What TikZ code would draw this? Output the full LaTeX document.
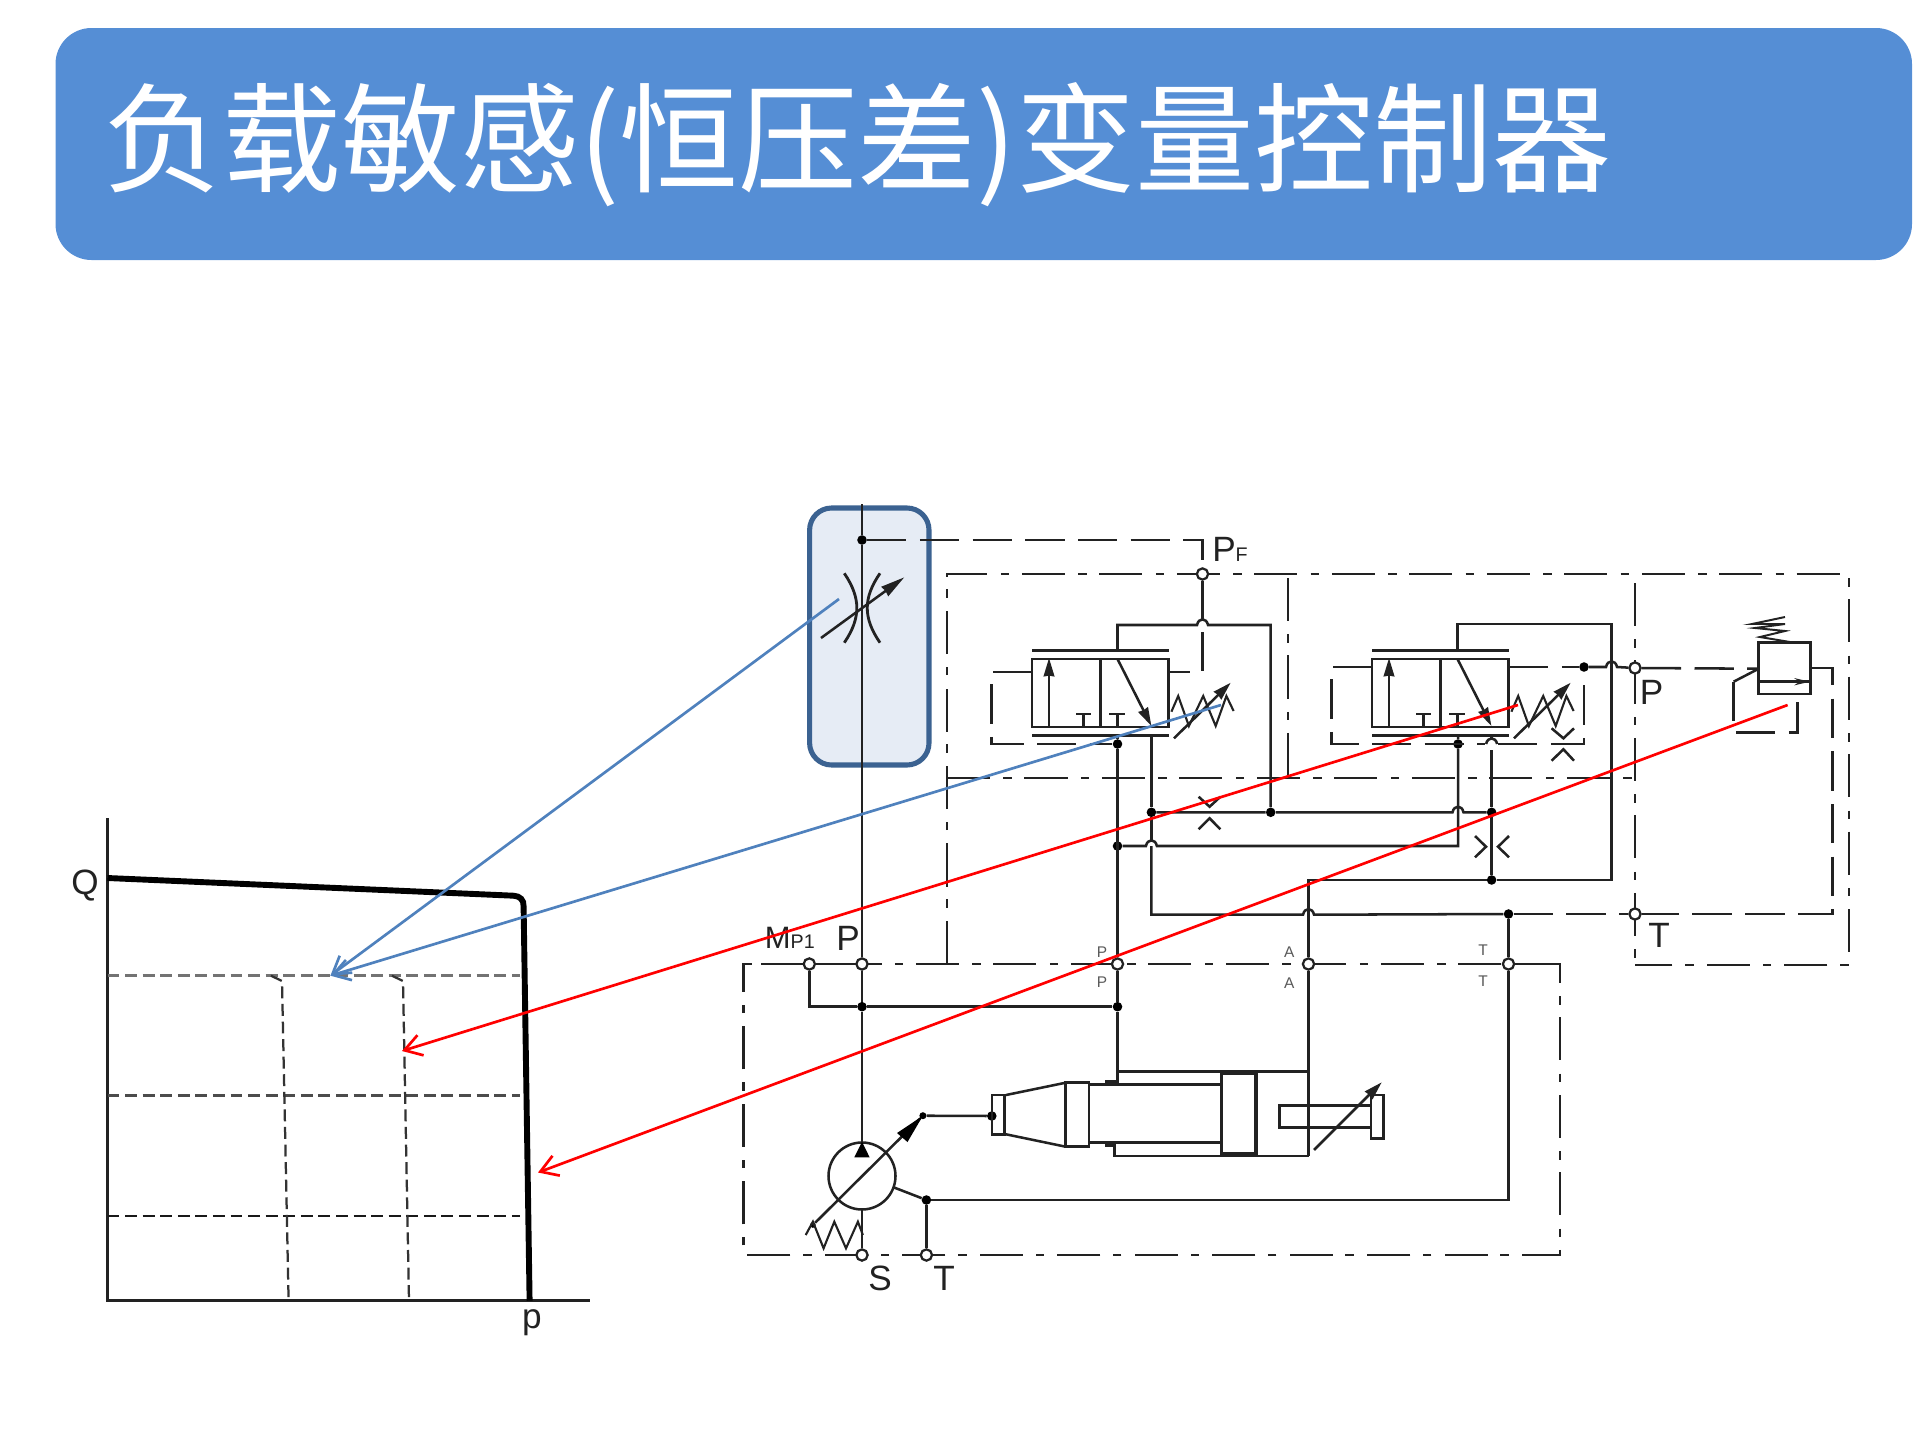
\documentclass[tikz,border=0pt]{standalone}
\usepackage{fontspec}
\setmainfont{Liberation Sans}
\newfontfamily\cjk{Noto Sans CJK SC}
\usetikzlibrary{arrows.meta}
\definecolor{titleblue}{HTML}{558ED5}
\definecolor{boxfill}{HTML}{E6ECF5}
\definecolor{boxline}{HTML}{3B6291}
\definecolor{linkblue}{HTML}{4F81BD}
\definecolor{inkline}{HTML}{222222}
\newcommand{\hopx}[2]{({#1-5.5},#2) .. controls ({#1-4},{#2-7.5}) and ({#1+4},{#2-7.5}) .. ({#1+5.5},#2)}
\tikzset{
	pipe/.style={draw=inkline,line width=1.8pt},
	frameline/.style={draw=inkline,line width=1.8pt,dash pattern=on 30.6pt off 9.5pt on 6pt off 9pt},
	ctrlline/.style={draw=inkline,line width=1.8pt,dash pattern=on 28pt off 9.5pt},
	port/.style={circle,draw=inkline,fill=white,line width=1.6pt,inner sep=0pt,minimum size=8pt},
	dot/.style={circle,fill=black,inner sep=0pt,minimum size=6.8pt},
	biglabel/.style={font=\fontsize{25}{27}\selectfont,text=inkline,inner sep=0pt},
	smalllabel/.style={font=\fontsize{11}{13}\selectfont,text=black!65,inner sep=0pt},
	gridline/.style={dashed,dash pattern=on 8.5pt off 4pt},
	linkarrow/.style={line width=1.9pt,-{Straight Barb[length=12pt,width=15pt,line width=1.9pt]}},
	tiparrow/.style={-{Stealth[length=13pt,width=7.5pt,inset=0.5pt]}},
}
\begin{document}
\begin{tikzpicture}[x=0.025cm,y=-0.025cm]
	\useasboundingbox (0,0) rectangle (1920,1440);
	% title bar
	\fill[titleblue,rounded corners=0.9cm] (55.5,28) rectangle (1912,260);
	\node[anchor=base west,inner sep=0pt,text=white,font=\cjk\fontsize{84.6}{90}\selectfont] (title) at (103,183) {负载敏感(恒压差)变量控制器};

	% p-Q chart
	\coordinate (origin) at (107.5,1300.7);
	\draw[pipe,line width=1.9pt] (107.5,818) -- (origin) -- (590,1300.7);
	\draw[gridline,line width=2.4pt,black!55] (107.5,975.7) -- (520,975.7);
	\draw[gridline,line width=2pt,black!70] (107.5,1095.7) -- (520,1095.7);
	\draw[gridline,line width=1.6pt,black!90] (107.5,1216) -- (520,1216);
	\draw[gridline,line width=1.6pt,black!80] (271,975.7) -- (282,981) -- (288.6,1300.7);
	\draw[gridline,line width=1.6pt,black!80] (392,975.7) -- (403,981) -- (409,1300.7);
	\draw[line width=4.2pt,black] (107.5,878) -- (513.6,895.7) .. controls (520,896) and (524,900) .. (523.6,906.4) -- (529.6,1300.7);
	\node[biglabel] (lblq) at (85,886) {Q};
	\node[biglabel] (lblp) at (532,1323) {p};

	% throttle box
	\draw[boxline,fill=boxfill,line width=3.6pt,rounded corners=0.55cm] (809.6,508) rectangle (929,765);
	\draw[line width=2pt,inkline] (844.3,573.3) .. controls (861,598) and (861,618) .. (844.3,642.7);
	\draw[line width=2pt,inkline] (880,573.3) .. controls (863,598) and (863,618) .. (880,642.7);
	\draw[pipe,-{Stealth[length=17pt,width=8pt,inset=0.5pt]}] (821,638) -- (904.3,577.3);

	% dash-dot frames
	\draw[frameline] (947,964) -- (947,574) -- (1849,574) -- (1849,965) -- (1635,965);
	\draw[frameline] (947,778) -- (1632,778);
	\draw[frameline] (1288,578) -- (1288,778);
	\draw[frameline] (1635,583) -- (1635,965);
	\draw[frameline] (761,964) -- (1560,964) -- (1560,1255) -- (743.6,1255) -- (743.6,964) -- (752,964);

	% ports
	\node[port] (pf) at (1202.5,574) {};
	\node[port] (mp1) at (809.3,964) {};
	\node[port] (pp) at (862,964) {};
	\node[port] (pv) at (1117.5,964) {};
	\node[port] (pa) at (1308.5,964) {};
	\node[port] (pt) at (1508.5,964) {};
	\node[port] (ps) at (862,1255) {};
	\node[port] (pd) at (926.4,1255) {};
	\node[port] (pc) at (1635,668) {};
	\node[port] (tc) at (1635,914) {};

	% junctions
	\node[dot] (jf) at (862,540) {};
	\node[dot] (j1) at (862,1006.7) {};
	\node[dot] (j2) at (1117.5,1006.7) {};
	\node[dot] (j3) at (1117.5,744) {};
	\node[dot] (j4) at (1117.5,846) {};
	\node[dot] (j5) at (1151.4,812.3) {};
	\node[dot] (j6) at (1270.7,812.3) {};
	\node[dot] (j7) at (1458,744) {};
	\node[dot] (j8) at (1491.6,812.3) {};
	\node[dot] (j9) at (1491.6,880) {};
	\node[dot] (j10) at (1584,667) {};
	\node[dot] (j11) at (1508.5,914) {};
	\node[dot] (j12) at (926.4,1200) {};
	\node[dot,minimum size=5pt] (j13) at (922.9,1115.7) {};
	\node[dot] (j14) at (991.8,1116) {};
	\node[dot,minimum size=4pt] (j15) at (812.9,1225) {};

	% directional valves
	\foreach \vx in {0,340}{
		\begin{scope}[shift={(\vx,0)}]
			\draw[pipe] (1032,659) rectangle (1168.6,727);
			\draw[pipe] (1100.4,659) -- (1100.4,727);
			\draw[pipe] (1032,650.7) -- (1168.6,650.7);
			\draw[pipe] (1032,735.7) -- (1168.6,735.7);
			\draw[pipe,tiparrow] (1049,727) -- (1049,658);
			\draw[pipe] (1083.6,727) -- (1083.6,714) (1076,714) -- (1091,714);
			\draw[pipe] (1117.5,727) -- (1117.5,714) (1109,714) -- (1125,714);
			\draw[pipe,tiparrow] (1117.5,659) -- (1151.4,726);
			\draw[pipe,line width=1.5pt] (1171.4,711.7) -- (1178.2,696) -- (1188.9,726) -- (1203.2,696) -- (1215.7,726) -- (1226.4,696) -- (1233.6,711);
			\draw[pipe,tiparrow] (1174,738.3) -- (1230.7,682.7);
		\end{scope}
	}

	% pilot lines
	\draw[ctrlline] (jf) -- (1202.5,540) -- (1202.5,562);
	\draw[ctrlline] (1202.5,632) -- (1202.5,676);
	\draw[ctrlline] (1032,672) -- (991.4,672) -- (991.4,744) -- (j3);
	\draw[pipe] (1168.6,672) -- (1190,672);
	\draw[ctrlline] (1372,667) -- (1331.4,667) -- (1331.4,744) -- (1485,744);
	\draw[ctrlline] (1498,744) -- (1584,744) -- (1584,683);
	\draw[pipe] \hopx{1491.6}{744};
	\draw[ctrlline] (1509,667) -- (j10);
	\draw[pipe] (j10) -- \hopx{1611.5}{667} -- (pc);
	\draw[ctrlline] (pc) -- (1758.7,668.7);
	\draw[ctrlline] (1810.5,668) -- (1832.7,668) -- (1832.7,914) -- (tc);
	\draw[ctrlline] (j11) -- (tc);
	\draw[ctrlline] (1733.6,682) -- (1733.6,732.3) -- (1797.6,732.3) -- (1797.6,694);

	% main pipes
	\draw[pipe] (862,504) -- (jf) -- (pp);
	\draw[pipe] (pp) -- (j1) -- (862,1142);
	\draw[pipe] (mp1) -- (pp);
	\draw[pipe] (mp1) |- (j1) -- (j2);
	\draw[pipe] (pv) -- (j2) -- (1117.5,1081.7) -- (1105,1081.7);
	\draw[pipe] (j3) -- (pv);
	\draw[pipe] (1117.5,735.7) -- (j3);
	\draw[pipe] (1117.5,650.7) -- (1117.5,625) -- \hopx{1202.5}{625} -- (1270.7,625) -- (j6);
	\draw[pipe] (pf) -- (1202.5,619);
	\draw[pipe] (1151.4,735.7) -- (j5) -- (1151.4,840);
	\draw[pipe] (1151.4,846) -- (1151.4,914.7) -- \hopx{1308.5}{914.7} -- (j11);
	\draw[pipe] (j4) -- \hopx{1151.4}{846} -- (1458,846) -- (j7) -- (1458,735.7);
	\draw[pipe] (j5) -- (j6) -- \hopx{1458}{812.3} -- (j8);
	\draw[pipe] (1491.6,735.7) -- (1491.6,738) (1491.6,750) -- (j8) -- (j9);
	\draw[pipe] (pa) -- (1308.5,880) -- (j9) -- (1611.5,880) -- (1611.5,624) -- (1457.5,624) -- (1457.5,650.7);
	\draw[pipe] (pa) -- (1308.5,1156);
	\draw[pipe] (pt) -- (1508.5,1200) -- (j12);
	\draw[pipe] (j11) -- (pt);
	\draw[pipe] (pt) -- (1560,964);
	\draw[pipe] (j12) -- (pd);
	\draw[pipe] (893.6,1187.3) -- (j12);
	\draw[pipe] (862,1209.5) -- (ps);

	% nozzles
	\draw[pipe] (1198.6,796.7) -- (1209.6,806.7) -- (1220.4,796.7);
	\draw[pipe] (1198.6,829.3) -- (1209.6,818.3) -- (1220.4,829.3);
	\draw[pipe] (1551.6,728.3) -- (1563.4,738.3) -- (1574,728.3);
	\draw[pipe] (1551.6,760.7) -- (1563.4,749.3) -- (1574,760.7);
	\draw[pipe] (1475,836) -- (1486,846.7) -- (1475,857.3);
	\draw[pipe] (1509,836) -- (1498,846.7) -- (1509,857.3);

	% relief valve
	\draw[pipe] (1758.7,642.7) rectangle (1810.5,694);
	\draw[pipe] (1758.7,681.7) -- (1810.5,681.7);
	\draw[pipe,-{Stealth[length=11pt,width=5pt]}] (1785,681.7) -- (1810,681.7);
	\draw[pipe,line width=1.4pt] (1790,642) -- (1760,637) -- (1785,631) -- (1755,628) -- (1785,624) -- (1752,624) -- (1785,617);
	\draw[pipe] (1758.7,668.7) -- (1733.6,681.7);

	% pump
	\draw[pipe] (862,1176) circle (33.5);
	\fill[black] (862,1141.7) -- (869.6,1157.3) -- (854.3,1157.3) -- cycle;
	\draw[pipe] (j15) -- (j13);
	\fill[black] (922.9,1115.7) -- (907.5,1142) -- (897,1133) -- cycle;
	\draw[pipe,line width=1.5pt] (805.7,1235) -- (812.9,1221.7) -- (823.6,1248.3) -- (834.3,1221.7) -- (846,1248.3) -- (857.9,1221.7) -- (862.9,1235);
	\draw[pipe] (j13) -- (j14);

	% cylinder
	\draw[pipe] (991.8,1095) rectangle (1004.3,1134.3);
	\draw[pipe] (1006,1095) -- (1065.7,1082.7) (1006,1134.3) -- (1065.7,1146.7);
	\draw[pipe] (1065.7,1082.7) rectangle (1089,1146.7);
	\draw[pipe] (1089,1084.3) -- (1221,1084.3) (1089,1142.7) -- (1221,1142.7);
	\draw[pipe] (1117.5,1071.7) -- (1308.5,1071.7);
	\draw[pipe] (1105,1145.7) -- (1114.6,1145.7) -- (1114.6,1156) -- (1308.5,1156);
	\draw[pipe,line width=2.2pt] (1221.7,1073.3) rectangle (1256,1154);
	\draw[pipe] (1371,1105.7) -- (1279.3,1105.7) -- (1279.3,1127.7) -- (1371,1127.7);
	\draw[pipe] (1371,1095) rectangle (1383.3,1138.3);
	\draw[pipe,tiparrow] (1314,1150) -- (1381.7,1082.3);

	% labels
	\node[biglabel,anchor=base west] (lblpf) at (1212,561) {P\fontsize{14}{16}\selectfont F};
	\node[biglabel,anchor=base east,font=\fontsize{22}{24}\selectfont] (lblmp) at (815,948) {M\fontsize{14}{16}\selectfont P1};
	\node[biglabel] (lblpp) at (848,938) {P};
	\node[biglabel] (lbls) at (880,1278) {S};
	\node[biglabel] (lblt) at (944,1278) {T};
	\node[biglabel] (lblpc) at (1651.5,692.7) {P};
	\node[biglabel] (lbltc) at (1659,935) {T};
	\foreach \nm/\lx/\ly/\tx in {a/1102/952/P,b/1102/982/P,c/1289.3/952/A,d/1289.3/983/A,e/1483/950/T,f/1483/981/T}{
		\node[smalllabel] (small\nm) at (\lx,\ly) {\tx};
	}

	% links to the chart
	\coordinate (linkend) at (330.4,975.7);
	\draw[linkblue,linkarrow] (839,599) -- (linkend);
	\draw[linkblue,linkarrow] (1221,705) -- (linkend);
	\draw[red,linkarrow] (1518,705) -- (402,1051);
	\draw[red,linkarrow] (1787.6,705) -- (538,1172.5);
\end{tikzpicture}
\end{document}
